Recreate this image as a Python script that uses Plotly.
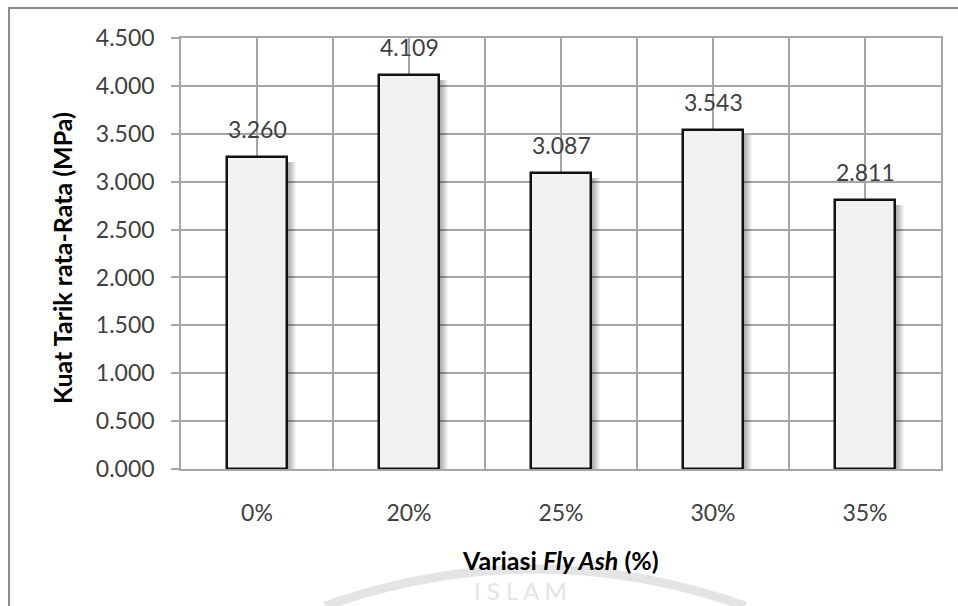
import plotly.graph_objects as go

# Data
categories = ["0%", "20%", "25%", "30%", "35%"]
kuat_tarik = [3.260, 4.109, 3.087, 3.543, 2.811]
y_ticks = [0.0, 0.5, 1.0, 1.5, 2.0, 2.5, 3.0, 3.5, 4.0, 4.5]

W, H = 958, 606
ML, MR, MT, MB = 181, 17, 38, 137
PW, PH = W - ML - MR, H - MT - MB

FONT = "Lato, 'Open Sans', sans-serif"
GRID = "#a6a6a6"
BAR_W = 0.40
PX = 1.0 / (PW / len(categories))  # one pixel in x data units
PY = 4.5 / PH                        # one pixel in y data units


def px_to_paper(px, py):
    return (px - ML) / PW, (H - MB - py) / PH


xs = list(range(len(categories)))
fig = go.Figure()

# soft drop shadow to the right of each bar
for k in range(1, 10):
    fig.add_trace(go.Bar(
        x=xs,
        y=[v - 5 * PY for v in kuat_tarik],
        width=BAR_W,
        offset=-BAR_W / 2 + k * PX,
        marker=dict(color="rgba(0,0,0,0.045)", line=dict(width=0)),
        hoverinfo="skip",
        showlegend=False,
    ))

# main bars
fig.add_trace(go.Bar(
    x=xs,
    y=kuat_tarik,
    width=BAR_W,
    offset=-BAR_W / 2,
    marker=dict(color="#f2f2f2", line=dict(color="#111111", width=2.5)),
    showlegend=False,
))

# faint stamp in the lower part of the page (drawn first, stays behind)
tx, ty = px_to_paper(520, 606)
fig.add_annotation(
    x=tx, y=ty, xref="paper", yref="paper", showarrow=False,
    xanchor="center", yanchor="bottom", borderpad=0,
    text="I S L A M",
    font=dict(family=FONT, size=24, color="#e4e4e4"),
)
x0, y0 = px_to_paper(325, 606)
xm, ym = px_to_paper(535, 532)
x1, y1 = px_to_paper(745, 606)
fig.add_shape(
    type="path", xref="paper", yref="paper",
    path=f"M {x0},{y0} Q {xm},{ym} {x1},{y1}",
    line=dict(color="#e4e4e4", width=9), layer="below",
)

# value labels above bars
for i, v in enumerate(kuat_tarik):
    fig.add_annotation(
        x=i, y=v, xref="x", yref="y",
        text=f"{v:.3f}", showarrow=False,
        yanchor="bottom", yshift=12,
        font=dict(family=FONT, size=23, color="#404040"),
    )

# axis titles
tx, ty = px_to_paper(560, 560)
fig.add_annotation(
    x=tx, y=ty, xref="paper", yref="paper", showarrow=False,
    xanchor="center", yanchor="middle", borderpad=0,
    text="<b>Variasi <i>Fly Ash</i> (%)</b>",
    font=dict(family=FONT, size=25, color="#000000"),
)
tx, ty = px_to_paper(62, 258)
fig.add_annotation(
    x=tx, y=ty, xref="paper", yref="paper", showarrow=False,
    xanchor="center", yanchor="middle",
    text="<b>Kuat Tarik rata-Rata (MPa)</b>", textangle=-90,
    font=dict(family=FONT, size=25, color="#000000"),
)

# outer frame
fx0, fy0 = px_to_paper(9, 8)
fx1, fy1 = px_to_paper(962, 612)
fig.add_shape(
    type="rect", xref="paper", yref="paper",
    x0=fx0, y0=fy1, x1=fx1, y1=fy0,
    line=dict(color="#8c8c8c", width=2), layer="below",
)

fig.update_layout(
    width=W, height=H,
    margin=dict(l=ML, r=MR, t=MT, b=MB),
    paper_bgcolor="white", plot_bgcolor="white",
    barmode="overlay", bargap=0,
    font=dict(family=FONT, size=23, color="#404040"),
    xaxis=dict(
        range=[-0.5, len(categories) - 0.5],
        tickmode="array", tickvals=xs, ticktext=categories,
        ticks="", showgrid=True, gridcolor=GRID, gridwidth=1.5,
        minor=dict(tickmode="array",
                   tickvals=[i - 0.5 for i in range(len(categories) + 1)],
                   showgrid=True, gridcolor=GRID, gridwidth=1.5, ticks=""),
        showline=True, linecolor=GRID, linewidth=1.5, mirror=True,
        ticklabelstandoff=23, zeroline=False,
        tickfont=dict(family=FONT, size=23, color="#404040"),
    ),
    yaxis=dict(
        range=[0, 4.5], tickmode="array", tickvals=y_ticks,
        tickformat=".3f",
        ticks="outside", ticklen=8, tickcolor=GRID, tickwidth=1.5,
        showgrid=True, gridcolor=GRID, gridwidth=1.5,
        showline=True, linecolor=GRID, linewidth=1.5, mirror=True,
        zeroline=False, ticklabelstandoff=12,
        tickfont=dict(family=FONT, size=23, color="#404040"),
    ),
)

fig.write_html("out.html")
